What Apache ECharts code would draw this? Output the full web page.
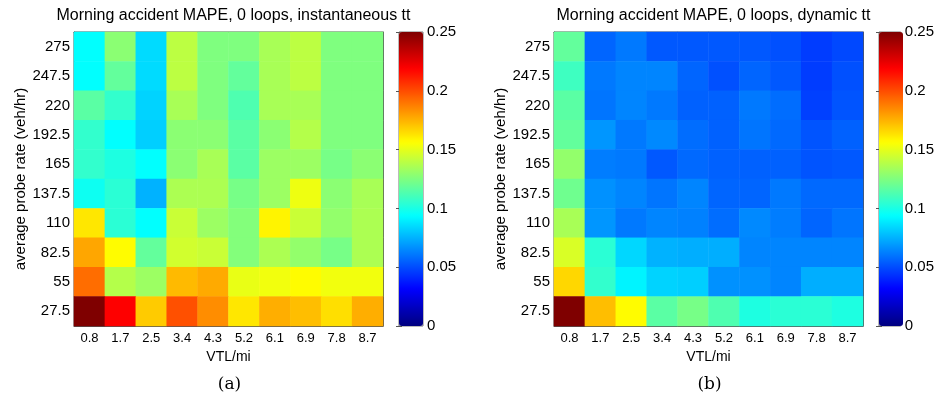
<!DOCTYPE html>
<html>
<head>
<meta charset="utf-8">
<script src="https://cdn.jsdelivr.net/npm/echarts@6/dist/echarts.min.js"></script>
<style>
html,body{margin:0;padding:0;background:#fff;}
#chart{width:937px;height:403px;}
</style>
</head>
<body>
<div id="chart"></div>
<script>
// VTL/mi categories (x) and probe rates (y, bottom to top)
var vtlCats = ['0.8','1.7','2.5','3.4','4.3','5.2','6.1','6.9','7.8','8.7'];
var rateCats = ['27.5','55','82.5','110','137.5','165','192.5','220','247.5','275'];
var colorbarTicks = [0, 0.05, 0.1, 0.15, 0.2, 0.25];

// MAPE values, rows listed from top (275) to bottom (27.5)
var instantaneousTT = [
  [0.094,0.128,0.085,0.140,0.125,0.125,0.135,0.140,0.125,0.125],
  [0.094,0.118,0.085,0.140,0.125,0.118,0.135,0.140,0.125,0.125],
  [0.116,0.106,0.083,0.135,0.125,0.113,0.135,0.135,0.125,0.125],
  [0.106,0.094,0.082,0.128,0.128,0.116,0.128,0.138,0.125,0.125],
  [0.106,0.101,0.094,0.128,0.135,0.116,0.132,0.132,0.123,0.128],
  [0.097,0.104,0.075,0.136,0.136,0.123,0.132,0.152,0.128,0.135],
  [0.162,0.104,0.094,0.143,0.132,0.126,0.159,0.143,0.130,0.136],
  [0.178,0.157,0.118,0.145,0.143,0.126,0.136,0.130,0.123,0.136],
  [0.192,0.138,0.132,0.173,0.177,0.151,0.153,0.157,0.153,0.153],
  [0.250,0.219,0.169,0.199,0.184,0.162,0.176,0.172,0.164,0.176]
];
var dynamicTT = [
  [0.118,0.056,0.061,0.053,0.053,0.053,0.053,0.051,0.046,0.049],
  [0.109,0.061,0.064,0.064,0.056,0.051,0.056,0.053,0.046,0.051],
  [0.116,0.060,0.064,0.061,0.055,0.055,0.061,0.058,0.047,0.052],
  [0.118,0.068,0.061,0.065,0.058,0.055,0.060,0.057,0.052,0.055],
  [0.130,0.062,0.061,0.053,0.057,0.055,0.055,0.055,0.052,0.053],
  [0.121,0.067,0.064,0.060,0.064,0.056,0.056,0.061,0.057,0.057],
  [0.135,0.068,0.061,0.064,0.063,0.058,0.065,0.062,0.056,0.060],
  [0.147,0.104,0.084,0.075,0.074,0.074,0.064,0.064,0.064,0.064],
  [0.166,0.106,0.091,0.083,0.082,0.067,0.067,0.064,0.074,0.074],
  [0.250,0.172,0.157,0.116,0.123,0.113,0.101,0.104,0.104,0.101]
];

function toCells(rows) {
  var out = [];
  var n = rows.length;
  for (var r = 0; r < n; r++) {
    for (var c = 0; c < rows[r].length; c++) {
      out.push([c, n - 1 - r, rows[r][c]]);
    }
  }
  return out;
}

var jet = ['#00007f','#0000ff','#007fff','#00ffff','#7fff7f','#ffff00','#ff7f00','#ff0000','#7f0000'];
var FONT = 'Liberation Sans, Arial, sans-serif';
var lineCol = '#555';

var plotTop = 32, plotH = 294;
var plots = [
  {left: 74, width: 309, cbLeft: 399, title: 'Morning accident MAPE, 0 loops, instantaneous tt', tag: '(a)', data: instantaneousTT},
  {left: 554, width: 309, cbLeft: 879, title: 'Morning accident MAPE, 0 loops, dynamic tt', tag: '(b)', data: dynamicTT}
];

var grid = [], xAxis = [], yAxis = [], series = [], visualMap = [], title = [];
plots.forEach(function (p, i) {
  grid.push({left: p.left, top: plotTop, width: p.width, height: plotH, show: true, borderColor: lineCol, borderWidth: 1, containLabel: false});
  var gi = grid.length - 1;
  xAxis.push({
    type: 'category', data: vtlCats, gridIndex: gi, position: 'bottom',
    name: 'VTL/mi', nameLocation: 'middle', nameGap: 21,
    nameTextStyle: {fontFamily: FONT, fontSize: 14, color: '#000'},
    axisLine: {show: true, lineStyle: {color: lineCol}},
    axisTick: {show: true, inside: true, alignWithLabel: true, length: 4, lineStyle: {color: lineCol}},
    axisLabel: {fontFamily: FONT, fontSize: 13, color: '#000', margin: 6},
    splitLine: {show: false}
  });
  xAxis.push({
    type: 'category', data: vtlCats, gridIndex: gi, position: 'top',
    axisLine: {show: true, lineStyle: {color: lineCol}},
    axisTick: {show: true, inside: true, alignWithLabel: true, length: 4, lineStyle: {color: lineCol}},
    axisLabel: {show: false}, splitLine: {show: false}
  });
  yAxis.push({
    type: 'category', data: rateCats, gridIndex: gi, position: 'left',
    name: 'average probe rate (veh/hr)', nameLocation: 'middle', nameGap: 45, nameRotate: 90,
    nameTextStyle: {fontFamily: FONT, fontSize: 15, color: '#000'},
    axisLine: {show: true, lineStyle: {color: lineCol}},
    axisTick: {show: true, inside: true, alignWithLabel: true, length: 4, lineStyle: {color: lineCol}},
    axisLabel: {fontFamily: FONT, fontSize: 15, color: '#000', margin: 4},
    splitLine: {show: false}
  });
  yAxis.push({
    type: 'category', data: rateCats, gridIndex: gi, position: 'right',
    axisLine: {show: true, lineStyle: {color: lineCol}},
    axisTick: {show: true, inside: true, alignWithLabel: true, length: 4, lineStyle: {color: lineCol}},
    axisLabel: {show: false}, splitLine: {show: false}
  });
  series.push({
    type: 'heatmap', xAxisIndex: xAxis.length - 2, yAxisIndex: yAxis.length - 2,
    data: toCells(p.data), itemStyle: {borderWidth: 0}, emphasis: {disabled: true}, silent: true
  });
  visualMap.push({
    type: 'continuous', seriesIndex: i, min: 0, max: 0.25, calculable: false,
    orient: 'vertical', left: p.cbLeft, top: plotTop, itemWidth: 24, itemHeight: plotH,
    padding: 0, text: null, showLabel: false, inRange: {color: jet}, hoverLink: false
  });
  grid.push({left: p.cbLeft, top: plotTop, width: 24, height: plotH, show: true, borderColor: '#777', borderWidth: 1, backgroundColor: 'transparent'});
  var cg = grid.length - 1;
  xAxis.push({type: 'value', gridIndex: cg, show: false, min: 0, max: 1});
  yAxis.push({
    type: 'value', gridIndex: cg, position: 'right', min: colorbarTicks[0], max: colorbarTicks[colorbarTicks.length - 1], interval: 0.05,
    axisLine: {show: false},
    axisTick: {show: true, inside: true, length: 3, lineStyle: {color: '#555'}},
    axisLabel: {fontFamily: FONT, fontSize: 15, color: '#000', margin: 4, formatter: function (v) { return String(+v.toFixed(2)); }},
    splitLine: {show: false}
  });
  yAxis.push({
    type: 'value', gridIndex: cg, position: 'left', min: colorbarTicks[0], max: colorbarTicks[colorbarTicks.length - 1], interval: 0.05,
    axisLine: {show: false},
    axisTick: {show: true, inside: true, length: 3, lineStyle: {color: '#555'}},
    axisLabel: {show: false}, splitLine: {show: false}
  });
  title.push({
    text: p.title, left: p.left + p.width / 2, top: 3, textAlign: 'center',
    textStyle: {fontFamily: FONT, fontSize: 16, fontWeight: 'normal', color: '#000'}
  });
  title.push({
    text: p.tag, left: p.left + p.width / 2 - 4, top: 371, textAlign: 'center',
    textStyle: {fontFamily: 'DejaVu Serif, Liberation Serif, serif', fontSize: 17, fontWeight: 'normal', color: '#000'}
  });
});

var chart = echarts.init(document.getElementById('chart'), null, {renderer: 'canvas'});
chart.setOption({
  animation: false,
  backgroundColor: '#fff',
  title: title, grid: grid, xAxis: xAxis, yAxis: yAxis, visualMap: visualMap, series: series
});
</script>
</body>
</html>
